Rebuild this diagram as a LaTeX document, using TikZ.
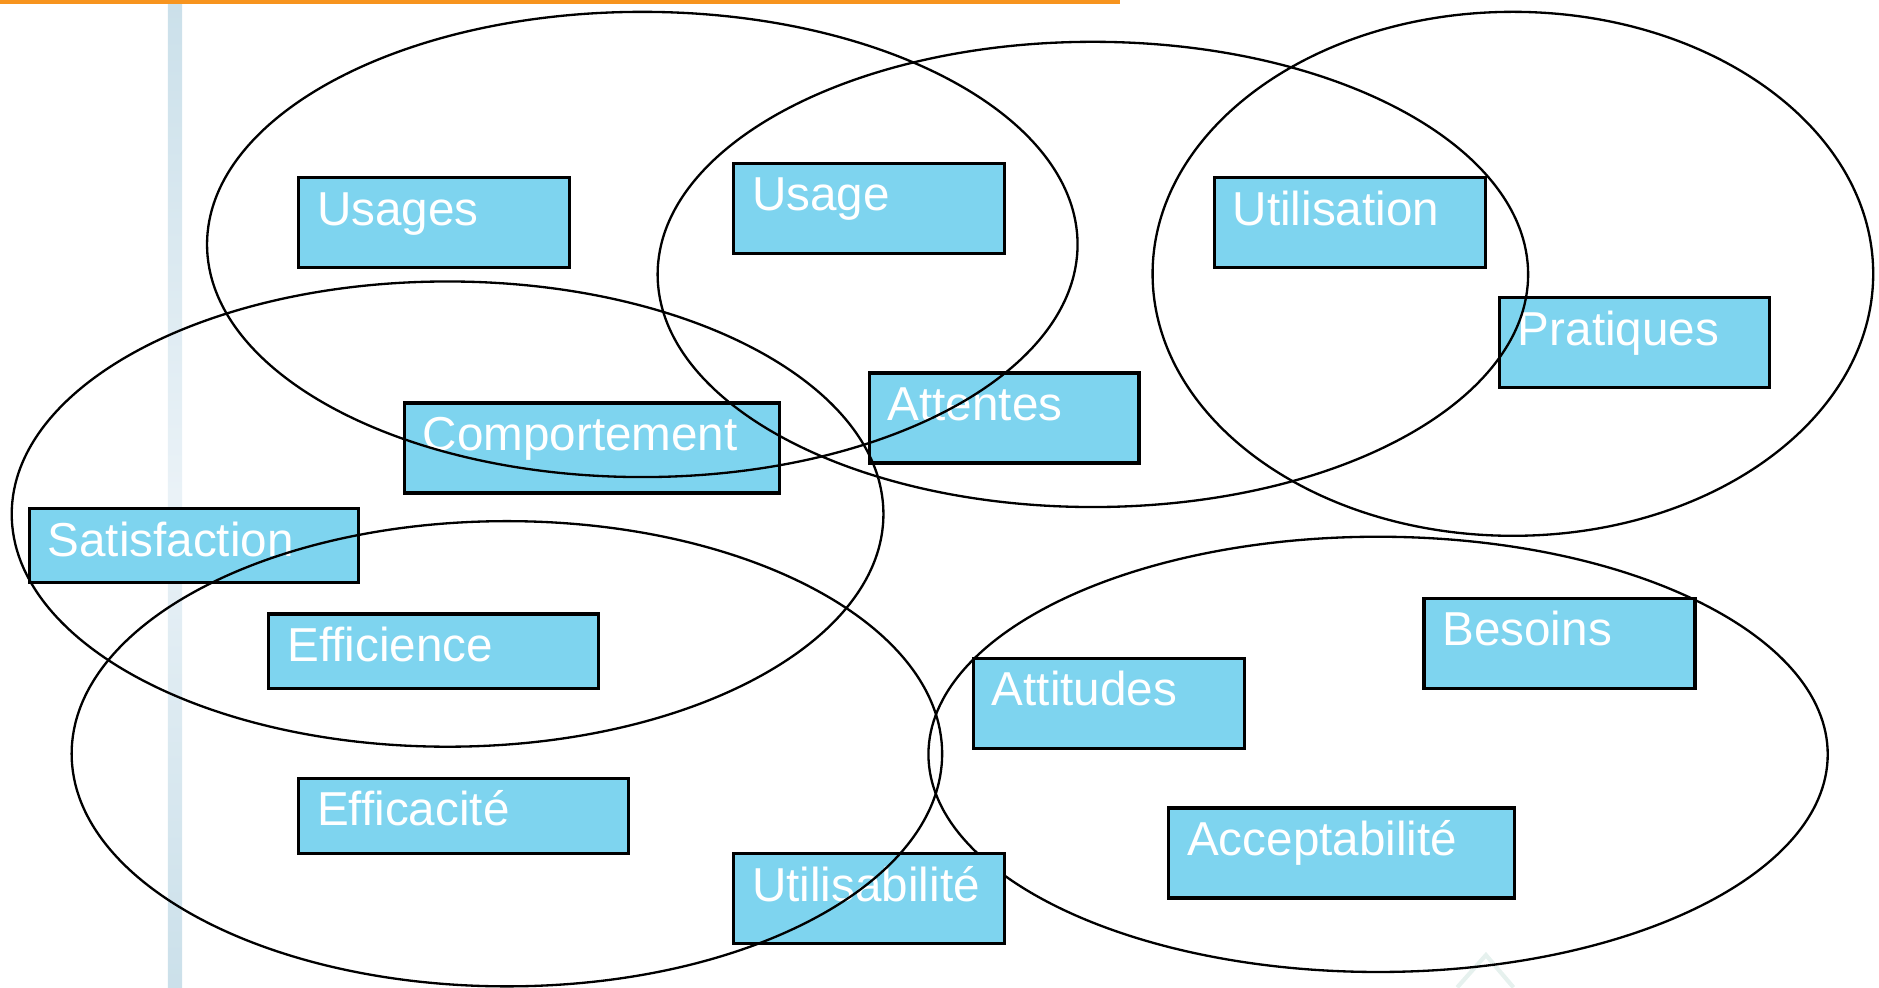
\documentclass[tikz,border=0pt]{standalone}
\usepackage{fontspec}
\setmainfont{Liberation Sans}
\usetikzlibrary{shapes.geometric}
\definecolor{boxblue}{RGB}{126,212,239}
\definecolor{barblue}{RGB}{203,224,234}
\definecolor{barlight}{RGB}{234,242,247}
\definecolor{topline}{RGB}{247,148,30}
\definecolor{faint}{RGB}{230,241,238}
\tikzset{
  box/.style={draw=black, line width=0.75pt, fill=boxblue, anchor=north west, inner sep=0pt},
  lbl/.style={text=white, font=\fontsize{11.3}{13}\selectfont, anchor=base west, inner sep=0pt},
  ring/.style={draw=black, line width=0.55pt, ellipse, inner sep=0pt}
}
\newcommand\lbox[6]{%
  \pgfmathsetmacro\bw{(#4-#2)/100}%
  \pgfmathsetmacro\bh{(#5-#3)/100}%
  \node[box, minimum width=\bw cm, minimum height=\bh cm] (#1) at (#2,#3) {};
  \node[lbl] (#1-t) at ([xshift=0.16cm,yshift=-0.41cm]#1.north west) {#6};
}
\begin{document}
\begin{tikzpicture}[x=0.01cm,y=-0.01cm]
\useasboundingbox (0,0) rectangle (1568,824);
% background decorations
\shade[top color=barblue, bottom color=barblue, middle color=barlight] (140,3) rectangle (152,824);
\draw[faint, line width=1pt] (1216,824) -- (1240,797) -- (1263,824);
\fill[topline] (0,0) rectangle (935,3);
% ellipse lying under boxes
\node[ring, minimum width=7.5cm, minimum height=3.63cm] (e6) at (1150,629.5) {};
% boxes
\lbox{usages}{248}{147}{474}{222}{Usages}
\lbox{usage}{611}{135}{837}{210}{Usage}
\lbox{utilisation}{1012}{147}{1238}{222}{Utilisation}
\lbox{pratiques}{1250}{247}{1475}{322}{Pratiques}
\lbox{attentes}{724}{310}{949}{385}{Attentes}
\lbox{comportement}{336}{335}{649}{410}{Comportement}
\lbox{satisfaction}{23}{423}{298}{485}{Satisfaction}
\lbox{efficience}{223}{511}{498}{573}{Efficience}
\lbox{attitudes}{811}{548}{1037}{623}{Attitudes}
\lbox{besoins}{1187}{498}{1413}{573}{Besoins}
\lbox{efficacite}{248}{648}{523}{711}{Efficacité}
\lbox{acceptabilite}{974}{673}{1262}{748}{Acceptabilité}
\lbox{utilisabilite}{611}{711}{837}{786}{Utilisabilité}
% ellipses over boxes
\node[ring, minimum width=7.26cm, minimum height=3.88cm] (e1) at (536,204) {};
\node[ring, minimum width=7.26cm, minimum height=3.88cm] (e2) at (912,229) {};
\node[ring, minimum width=6.01cm, minimum height=4.37cm] (e3) at (1262.5,228.5) {};
\node[ring, minimum width=7.27cm, minimum height=3.88cm] (e4) at (373.5,429) {};
\node[ring, minimum width=7.26cm, minimum height=3.88cm] (e5) at (423,629) {};
\end{tikzpicture}
\end{document}
